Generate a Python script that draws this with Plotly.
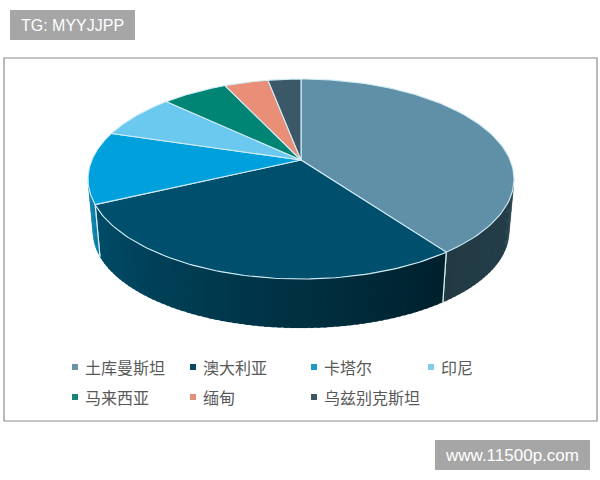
import numpy as np
import plotly.graph_objects as go

CATEGORIES = ["土库曼斯坦", "澳大利亚", "卡塔尔", "印尼", "马来西亚", "缅甸", "乌兹别克斯坦"]
VALUES = [40.0, 28.0, 11.7, 7.3, 6.0, 4.0, 3.0]
COLORS = ["#5f90a8", "#004f6c", "#00a0dc", "#6bc9ef", "#008473", "#e98e77", "#3b5868"]
LEGEND_COLORS = ["#6a93a8", "#0b4a5e", "#1b9cc6", "#7fcdea", "#1a8576", "#e0917c", "#3f5662"]
SIDE_LEFT = ["#223a44", "#004d69", "#0a7ca6", "#44aaaa", "#000066", "#aa6666", "#223344"]
SIDE_RIGHT = ["#27414c", "#00202c", "#0a7ca6", "#44aaaa", "#000066", "#aa6666", "#223344"]

CX, CY, RX, RY = 301, 179, 213, 100
BX, BY, BRX, BRY = 301, 232, 208, 96
K = 0.19
EDGE = "#d3edf7"


def unit(theta):
    u, v = np.sin(theta), np.cos(theta)
    d = 1 + K * v
    return u * np.sqrt(1 - K * K) / d, (v + K) / d


def top(theta):
    a, b = unit(theta)
    return CX + RX * a, CY - RY * b


def bottom(theta):
    a, b = unit(theta)
    return BX + BRX * a, BY - BRY * b


def mix(c1, c2, t):
    def parse(c):
        c = c.lstrip("#")
        return [int(c[i:i + 2], 16) for i in (0, 2, 4)]
    a, b = parse(c1), parse(c2)
    return "#%02x%02x%02x" % tuple(round(a[i] + (b[i] - a[i]) * t) for i in range(3))


fig = go.Figure()


def poly(x, y, fill, line=None, width=0.6):
    fig.add_trace(go.Scatter(
        x=list(x), y=list(y), mode="lines", fill="toself", fillcolor=fill,
        line=dict(color=line or fill, width=width), hoverinfo="skip", showlegend=False))


def stroke(x, y, color=EDGE, width=1.2):
    fig.add_trace(go.Scatter(
        x=list(x), y=list(y), mode="lines", line=dict(color=color, width=width),
        hoverinfo="skip", showlegend=False))


edges = np.concatenate([[0], np.cumsum(VALUES)]) / sum(VALUES) * 2 * np.pi
front_a = np.arccos(-K)
front_b = 2 * np.pi - front_a

# side wall, drawn first, one slice at a time
for i in range(len(VALUES)):
    a, b = max(edges[i], front_a), min(edges[i + 1], front_b)
    if a >= b:
        continue
    n = max(2, int((b - a) / np.radians(1.5)))
    steps = np.linspace(a, b, n + 1)
    for j in range(n):
        t = np.linspace(steps[j], min(steps[j + 1] + np.radians(0.8), b), 4)
        tx, ty = top(t)
        bx, by = bottom(t[::-1])
        # colour runs from the slice's right end to its left end
        c = mix(SIDE_RIGHT[i], SIDE_LEFT[i], (j + 0.5) / n)
        poly(np.r_[tx, bx, tx[0]], np.r_[ty, by, ty[0]], c, width=0.1)
    # dividers on the wall
    for e in (edges[i], edges[i + 1]):
        if front_a < e < front_b:
            tx, ty = top(np.array([e]))
            bx, by = bottom(np.array([e]))
            stroke([tx[0], bx[0]], [ty[0], by[0]])

# top faces
hx, hy = CX, CY - RY * K
for i in range(len(VALUES)):
    t = np.linspace(edges[i], edges[i + 1], 90)
    ax, ay = top(t)
    poly(np.r_[hx, ax, hx], np.r_[hy, ay, hy], COLORS[i], line=EDGE, width=1.1)

# legend rows
LEG_X = [75, 193, 314, 431, 75, 193, 314]
LEG_Y = [367, 367, 367, 367, 397, 397, 397]
fig.add_trace(go.Scatter(
    x=LEG_X, y=LEG_Y, mode="markers",
    marker=dict(symbol="square", size=6, color=LEGEND_COLORS),
    hoverinfo="skip", showlegend=False))
annotations = [
    dict(x=x + 8, y=y, text=name, xanchor="left", yanchor="middle", showarrow=False,
         font=dict(family="Noto Sans CJK SC", size=16, color="#595959"))
    for x, y, name in zip(LEG_X, LEG_Y, CATEGORIES)
]
annotations += [
    dict(x=72, y=25, text="TG: MYYJJPP", showarrow=False,
         font=dict(family="Liberation Sans", size=16, color="#ffffff")),
    dict(x=512, y=455, text="www.11500p.com", showarrow=False,
         font=dict(family="Liberation Sans", size=17, color="#ffffff")),
]

shapes = [
    dict(type="rect", x0=4, x1=597, y0=58, y1=421, line=dict(color="#8c8c8c", width=1.2),
         fillcolor="rgba(0,0,0,0)", layer="below"),
    dict(type="rect", x0=10, x1=135, y0=10, y1=40, line=dict(width=0), fillcolor="#a6a6a6", layer="below"),
    dict(type="rect", x0=435, x1=590, y0=440, y1=470, line=dict(width=0), fillcolor="#a6a6a6", layer="below"),
]

fig.update_layout(
    width=600, height=480, autosize=False,
    margin=dict(l=0, r=0, t=0, b=0),
    paper_bgcolor="#ffffff", plot_bgcolor="#ffffff",
    xaxis=dict(range=[0, 600], visible=False, fixedrange=True),
    yaxis=dict(range=[480, 0], visible=False, fixedrange=True),
    shapes=shapes, annotations=annotations, showlegend=False,
)
fig.write_html("out.html", config={"displayModeBar": False},
               post_script="document.body.style.margin='0';document.documentElement.style.overflow='hidden';")
